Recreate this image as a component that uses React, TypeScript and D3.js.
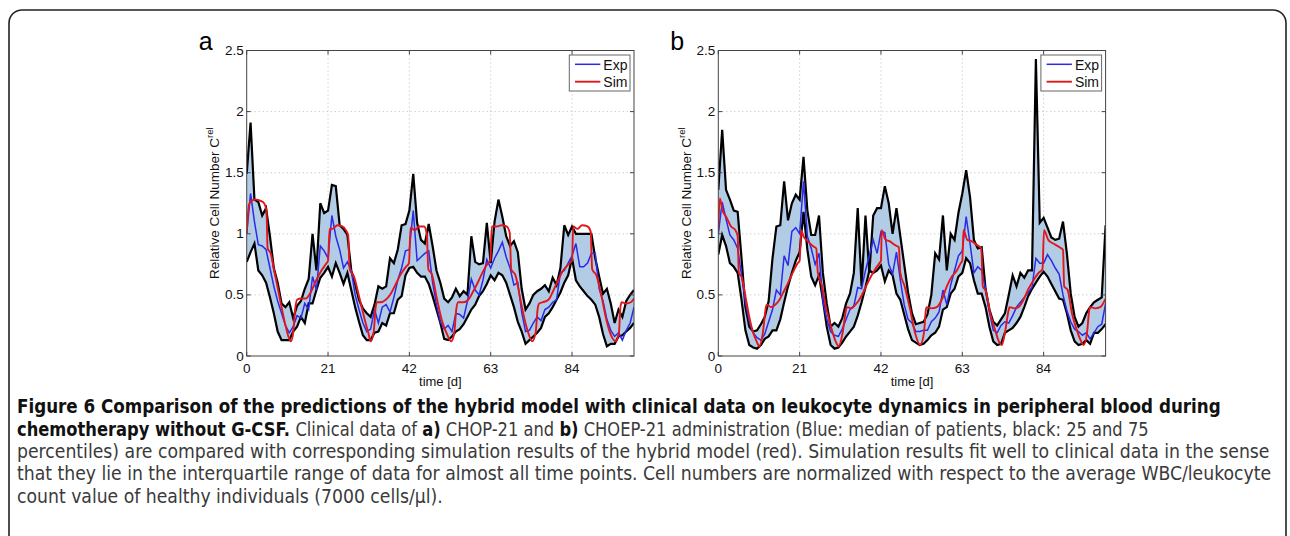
import React, { useMemo } from 'react';
import * as d3 from 'd3';

// ---------- data ----------
const DAYS = d3.range(0, 101);
const X_TICKS = [0, 21, 42, 63, 84];
const Y_TICKS = [0, 0.5, 1, 1.5, 2, 2.5];
const Y_TICK_LABELS = ['0', '0.5', '1', '1.5', '2', '2.5'];
const LEGEND = ['Exp', 'Sim'];

// Panel a (CHOP-21)
const upperA = [
  1.49, 1.91, 1.28, 1.26, 1.15, 1.21, 0.98, 0.72, 0.60, 0.43,
  0.40, 0.44, 0.31, 0.41, 0.45, 0.55, 0.63, 1.00, 0.70, 1.25,
  1.17, 1.19, 1.40, 1.39, 1.07, 1.04, 0.99, 0.70, 0.59, 0.46,
  0.39, 0.35, 0.32, 0.42, 0.57, 0.55, 0.57, 0.80, 0.76, 0.87,
  1.07, 1.08, 1.19, 1.49, 1.09, 0.95, 0.92, 1.08, 0.90, 0.70,
  0.60, 0.47, 0.44, 0.48, 0.55, 0.49, 0.53, 0.50, 0.98, 0.77,
  0.75, 0.76, 1.09, 0.76, 1.10, 1.28, 1.14, 0.98, 0.90, 0.94,
  0.85, 0.55, 0.38, 0.43, 0.50, 0.53, 0.55, 0.58, 0.53, 0.64,
  0.58, 0.72, 1.07, 0.99, 1.06, 1.00, 1.00, 1.00, 1.00, 1.00,
  0.80, 0.65, 0.51, 0.55, 0.43, 0.27, 0.38, 0.32, 0.45, 0.50,
  0.54,
];
const lowerA = [
  0.77, 0.85, 0.92, 0.70, 0.66, 0.60, 0.48, 0.35, 0.20, 0.13,
  0.13, 0.13, 0.20, 0.24, 0.32, 0.27, 0.43, 0.43, 0.54, 0.64,
  0.68, 0.73, 0.65, 0.76, 0.68, 0.59, 0.68, 0.54, 0.40, 0.28,
  0.17, 0.13, 0.13, 0.19, 0.20, 0.27, 0.25, 0.35, 0.35, 0.46,
  0.49, 0.66, 0.72, 0.73, 0.68, 0.65, 0.65, 0.59, 0.49, 0.38,
  0.27, 0.14, 0.13, 0.16, 0.20, 0.22, 0.26, 0.32, 0.38, 0.42,
  0.49, 0.53, 0.59, 0.66, 0.62, 0.68, 0.66, 0.60, 0.50, 0.40,
  0.28, 0.20, 0.10, 0.13, 0.16, 0.19, 0.23, 0.32, 0.35, 0.40,
  0.46, 0.52, 0.60, 0.66, 0.80, 0.62, 0.57, 0.53, 0.49, 0.46,
  0.42, 0.32, 0.18, 0.08, 0.10, 0.10, 0.16, 0.17, 0.20, 0.23,
  0.27,
];
const medianA = [
  1.00, 1.33, 1.10, 0.91, 0.90, 0.87, 0.72, 0.57, 0.45, 0.35,
  0.25, 0.19, 0.24, 0.33, 0.31, 0.43, 0.38, 0.65, 0.54, 0.90,
  0.86, 0.80, 1.15, 0.98, 0.87, 0.72, 0.77, 0.70, 0.50, 0.38,
  0.27, 0.20, 0.22, 0.38, 0.27, 0.40, 0.42, 0.36, 0.48, 0.62,
  0.72, 0.86, 0.87, 1.19, 0.78, 0.81, 0.84, 0.86, 0.60, 0.42,
  0.28, 0.22, 0.25, 0.20, 0.35, 0.34, 0.31, 0.45, 0.63, 0.54,
  0.50, 0.62, 0.79, 0.72, 0.80, 0.86, 0.93, 0.81, 0.72, 0.58,
  0.60, 0.36, 0.20, 0.21, 0.27, 0.32, 0.29, 0.38, 0.40, 0.44,
  0.46, 0.68, 0.70, 0.76, 0.82, 0.92, 0.73, 0.73, 0.76, 0.84,
  0.84, 0.55, 0.45, 0.30, 0.21, 0.16, 0.19, 0.13, 0.21, 0.27,
  0.40,
];
const simTimeA = [
  0, 0.6, 1.2, 2.3, 3.6, 4.5, 5.1, 5.4, 6.2, 7.1,
  8.0, 9.0, 10.1, 11.0, 11.4, 12.0, 12.5, 13.0, 14.0, 15.2,
  16.5, 17.8, 19.1, 20.4, 21.0, 21.4, 22.1, 23.4, 24.7, 25.6,
  26.2, 26.6, 27.7, 29.0, 30.3, 31.4, 32.0, 32.8, 33.3, 33.6,
  34.6, 35.9, 37.2, 38.5, 39.8, 41.1, 41.9, 42.3, 43.4, 44.5,
  45.8, 46.5, 46.9, 47.8, 49.1, 50.4, 51.7, 52.8, 53.6, 54.1,
  54.6, 55.9, 57.2, 58.5, 59.8, 61.0, 62.3, 62.9, 63.3, 64.5,
  65.8, 67.1, 67.9, 68.3, 69.4, 70.5, 71.6, 72.7, 73.7, 74.6,
  75.1, 75.5, 76.5, 77.9, 79.1, 80.4, 81.7, 83.4, 84.0, 84.3,
  85.4, 86.6, 88.0, 88.8, 89.2, 90.3, 91.6, 92.9, 94.2, 95.2,
  96.1, 96.5, 96.8, 98.0, 99.2, 100,
];
const simValueA = [
  1.00, 1.24, 1.27, 1.28, 1.27, 1.25, 1.19, 0.88, 0.84, 0.70,
  0.56, 0.40, 0.24, 0.14, 0.12, 0.19, 0.38, 0.46, 0.47, 0.47,
  0.52, 0.61, 0.69, 0.75, 0.78, 1.04, 1.04, 1.07, 1.06, 1.03,
  0.99, 0.71, 0.65, 0.49, 0.32, 0.19, 0.12, 0.20, 0.40, 0.44,
  0.44, 0.46, 0.51, 0.59, 0.67, 0.73, 0.76, 1.05, 1.03, 1.06,
  1.06, 1.00, 0.71, 0.67, 0.47, 0.29, 0.18, 0.12, 0.19, 0.38,
  0.44, 0.44, 0.46, 0.53, 0.61, 0.69, 0.76, 0.78, 1.06, 1.06,
  1.07, 1.06, 1.01, 0.71, 0.66, 0.49, 0.32, 0.19, 0.12, 0.19,
  0.38, 0.43, 0.44, 0.46, 0.53, 0.62, 0.70, 0.76, 0.78, 1.06,
  1.04, 1.07, 1.06, 1.02, 0.71, 0.66, 0.49, 0.29, 0.16, 0.12,
  0.19, 0.40, 0.44, 0.43, 0.44, 0.47,
];

// Panel b (CHOEP-21)
const upperB = [
  1.36, 1.85, 1.36, 1.28, 1.19, 1.18, 0.80, 0.40, 0.24, 0.20,
  0.21, 0.26, 0.32, 0.45, 0.80, 1.06, 1.07, 1.43, 1.11, 1.25,
  1.32, 1.28, 1.63, 1.19, 0.99, 0.99, 1.15, 0.68, 0.43, 0.24,
  0.27, 0.24, 0.31, 0.43, 0.51, 0.68, 1.21, 0.57, 1.15, 0.68,
  1.15, 1.21, 1.21, 1.39, 1.25, 1.00, 1.21, 0.98, 0.75, 0.52,
  0.35, 0.26, 0.27, 0.28, 0.34, 0.50, 0.84, 0.79, 1.15, 0.70,
  1.00, 0.95, 1.17, 1.33, 1.52, 1.30, 0.95, 0.88, 0.89, 0.55,
  0.38, 0.28, 0.25, 0.30, 0.35, 0.50, 0.66, 0.57, 0.68, 0.64,
  0.70, 0.70, 2.43, 1.09, 1.13, 1.05, 0.97, 0.95, 0.96, 1.10,
  0.84, 0.51, 0.32, 0.24, 0.27, 0.35, 0.40, 0.44, 0.46, 0.48,
  1.07,
];
const lowerB = [
  0.83, 0.99, 0.90, 0.76, 0.73, 0.68, 0.46, 0.21, 0.09, 0.07,
  0.06, 0.09, 0.14, 0.16, 0.21, 0.21, 0.30, 0.44, 0.57, 0.68,
  0.78, 0.85, 1.18, 0.87, 0.65, 0.58, 0.66, 0.46, 0.24, 0.09,
  0.06, 0.07, 0.11, 0.16, 0.20, 0.24, 0.33, 0.44, 0.56, 0.70,
  0.68, 0.70, 0.74, 0.61, 0.70, 0.66, 0.51, 0.46, 0.34, 0.22,
  0.13, 0.11, 0.09, 0.10, 0.13, 0.17, 0.19, 0.24, 0.38, 0.40,
  0.51, 0.55, 0.65, 0.68, 0.80, 0.76, 0.62, 0.51, 0.51, 0.40,
  0.24, 0.12, 0.09, 0.10, 0.19, 0.21, 0.23, 0.27, 0.32, 0.40,
  0.49, 0.55, 0.60, 0.65, 0.69, 0.65, 0.59, 0.53, 0.47, 0.46,
  0.35, 0.21, 0.12, 0.09, 0.10, 0.13, 0.10, 0.19, 0.19, 0.22,
  0.26,
];
const medianB = [
  1.00, 1.26, 1.12, 0.99, 0.95, 0.88, 0.66, 0.44, 0.28, 0.19,
  0.15, 0.13, 0.18, 0.28, 0.38, 0.54, 0.50, 0.82, 0.74, 1.02,
  1.05, 1.00, 1.43, 0.98, 0.88, 0.75, 0.84, 0.45, 0.30, 0.20,
  0.17, 0.16, 0.22, 0.30, 0.38, 0.41, 0.56, 0.55, 0.70, 0.82,
  0.95, 0.84, 1.02, 1.01, 0.75, 0.67, 0.85, 0.62, 0.42, 0.30,
  0.27, 0.20, 0.20, 0.21, 0.21, 0.28, 0.31, 0.36, 0.54, 0.42,
  0.58, 0.70, 0.82, 0.86, 1.14, 0.92, 0.68, 0.73, 0.70, 0.55,
  0.36, 0.21, 0.19, 0.25, 0.28, 0.27, 0.33, 0.40, 0.44, 0.48,
  0.52, 0.56, 0.80, 0.76, 0.76, 0.83, 0.78, 0.72, 0.67, 0.50,
  0.37, 0.28, 0.22, 0.20, 0.17, 0.19, 0.14, 0.19, 0.24, 0.26,
  0.43,
];
const simTimeB = [
  0, 0.4, 1.1, 2.0, 3.3, 4.4, 5.0, 5.3, 6.1, 7.0,
  8.0, 9.0, 9.9, 10.6, 11.5, 12.3, 12.5, 13.6, 14.7, 15.8,
  16.6, 17.9, 19.2, 20.5, 21.0, 21.4, 22.0, 23.1, 24.4, 25.3,
  25.7, 26.8, 27.8, 29.1, 30.3, 31.1, 32.1, 33.0, 33.2, 34.3,
  35.4, 36.4, 37.7, 38.9, 40.3, 41.6, 42.0, 42.2, 43.2, 44.2,
  45.5, 46.6, 47.0, 48.1, 49.4, 50.8, 52.1, 53.1, 53.6, 53.8,
  55.1, 56.4, 57.7, 59.0, 60.3, 61.6, 62.6, 63.0, 63.3, 64.3,
  65.4, 66.7, 67.9, 68.3, 69.1, 70.2, 71.5, 72.3, 73.2, 74.0,
  75.0, 75.2, 76.4, 77.5, 78.8, 80.1, 81.4, 82.7, 83.7, 84.1,
  85.2, 86.5, 88.1, 89.0, 89.3, 90.2, 91.3, 92.6, 93.4, 94.3,
  95.2, 95.8, 96.0, 97.3, 98.6, 100,
];
const simValueB = [
  1.03, 1.29, 1.19, 1.14, 1.06, 1.03, 0.98, 0.68, 0.64, 0.49,
  0.32, 0.19, 0.12, 0.08, 0.19, 0.40, 0.42, 0.40, 0.42, 0.46,
  0.51, 0.59, 0.68, 0.76, 0.78, 1.03, 0.98, 0.94, 0.90, 0.88,
  0.68, 0.57, 0.40, 0.24, 0.12, 0.08, 0.19, 0.38, 0.40, 0.39,
  0.42, 0.46, 0.54, 0.62, 0.70, 0.76, 0.78, 1.03, 0.95, 0.94,
  0.91, 0.89, 0.68, 0.57, 0.40, 0.19, 0.09, 0.19, 0.38, 0.40,
  0.39, 0.40, 0.46, 0.57, 0.65, 0.70, 0.76, 0.78, 1.03, 0.95,
  0.94, 0.91, 0.88, 0.57, 0.53, 0.35, 0.21, 0.13, 0.09, 0.19,
  0.38, 0.40, 0.39, 0.40, 0.46, 0.55, 0.62, 0.68, 0.71, 1.03,
  0.95, 0.92, 0.89, 0.87, 0.57, 0.54, 0.35, 0.21, 0.14, 0.09,
  0.19, 0.38, 0.40, 0.39, 0.40, 0.47,
];

const CAPTION_LINES = [
  [{ t: 'Figure 6 Comparison of the predictions of the hybrid model with clinical data on leukocyte dynamics in peripheral blood during', b: true }],
  [
    { t: 'chemotherapy without G-CSF.', b: true },
    { t: ' Clinical data of ', b: false },
    { t: 'a)', b: true },
    { t: ' CHOP-21 and ', b: false },
    { t: 'b)', b: true },
    { t: ' CHOEP-21 administration (Blue: median of patients, black: 25 and 75', b: false },
  ],
  [{ t: 'percentiles) are compared with corresponding simulation results of the hybrid model (red). Simulation results fit well to clinical data in the sense', b: false }],
  [{ t: 'that they lie in the interquartile range of data for almost all time points. Cell numbers are normalized with respect to the average WBC/leukocyte', b: false }],
  [{ t: 'count value of healthy individuals (7000 cells/\u03bcl).', b: false }],
];
// widths of the full lines; the last (short) line is scaled like line 4
const CAPTION_WIDTHS = [1205, 1132, 1253, 1255, null];
const CAPTION_Y = [413, 436, 458, 480, 503];

// ---------- layout ----------
const PLOT_W = 387.3;
const TOP = 50.5;
const BOTTOM = 356;
const FILL = 'rgb(179,204,230)';
const BLUE = '#2a2ae8';
const RED = '#e3161c';
const CAPTION_FONT = "'DejaVu Sans Condensed', 'Liberation Sans Narrow', 'DejaVu Sans', sans-serif";
const CAPTION_SIZE = 19.5;
const CAPTION_X = 17;

type PanelProps = {
  id: string;
  left: number;
  letter: string;
  upper: number[];
  lower: number[];
  median: number[];
  simT: number[];
  simV: number[];
};

function Panel({ id, left, letter, upper, lower, median, simT, simV }: PanelProps) {
  const x = d3.scaleLinear().domain([0, 100]).range([left, left + PLOT_W]);
  const y = d3.scaleLinear().domain([0, 2.5]).range([BOTTOM, TOP]);
  const right = left + PLOT_W;

  const area = d3
    .area<number>()
    .x((d) => x(d))
    .y0((d, i) => y(lower[i]))
    .y1((d, i) => y(upper[i]))(DAYS);
  const mk = (arr: number[]) =>
    d3
      .line<number>()
      .x((d) => x(d))
      .y((d, i) => y(arr[i]))(DAYS);
  const simPath = d3
    .line<number>()
    .x((d, i) => x(simT[i]))
    .y((d) => y(d))
    .curve(d3.curveMonotoneX)(simV);

  const legX = right - 64.7;
  const legY = TOP + 4.5;

  return (
    <g>
      <defs>
        <clipPath id={`clip-${id}`}>
          <rect x={left} y={TOP} width={PLOT_W} height={BOTTOM - TOP} />
        </clipPath>
      </defs>
      {X_TICKS.filter((t) => t > 0).map((t) => (
        <line key={`gx${t}`} x1={x(t)} x2={x(t)} y1={TOP} y2={BOTTOM} stroke="#b8b8b8" strokeWidth={1} strokeDasharray="1,3" />
      ))}
      {Y_TICKS.filter((t) => t > 0 && t < 2.5).map((t) => (
        <line key={`gy${t}`} x1={left} x2={right} y1={y(t)} y2={y(t)} stroke="#b8b8b8" strokeWidth={1} strokeDasharray="1,3" />
      ))}
      <g clipPath={`url(#clip-${id})`}>
        <path d={area || ''} fill={FILL} stroke="none" />
        <path d={mk(upper) || ''} fill="none" stroke="#000" strokeWidth={2.2} />
        <path d={mk(lower) || ''} fill="none" stroke="#000" strokeWidth={2.2} />
        <path d={mk(median) || ''} fill="none" stroke={BLUE} strokeWidth={1.5} />
        <path d={simPath || ''} fill="none" stroke={RED} strokeWidth={1.9} />
      </g>
      <rect x={left} y={TOP} width={PLOT_W} height={BOTTOM - TOP} fill="none" stroke="#444" strokeWidth={1} />
      {X_TICKS.map((t) => (
        <g key={`xt${t}`}>
          <line x1={x(t)} x2={x(t)} y1={BOTTOM} y2={BOTTOM - 4} stroke="#444" />
          <line x1={x(t)} x2={x(t)} y1={TOP} y2={TOP + 4} stroke="#444" />
          <text x={x(t)} y={BOTTOM + 17} textAnchor="middle" fontSize={13.5} fill="#111">
            {t}
          </text>
        </g>
      ))}
      {Y_TICKS.map((t, i) => (
        <g key={`yt${t}`}>
          <line x1={left} x2={left + 4} y1={y(t)} y2={y(t)} stroke="#444" />
          <line x1={right} x2={right - 4} y1={y(t)} y2={y(t)} stroke="#444" />
          <text x={left - 3} y={y(t) + 4.5} textAnchor="end" fontSize={13.5} fill="#111">
            {Y_TICK_LABELS[i]}
          </text>
        </g>
      ))}
      <text x={(left + right) / 2} y={386} textAnchor="middle" fontSize={13} fill="#111">
        time [d]
      </text>
      <text transform={`translate(${left - 27.5},${(TOP + BOTTOM) / 2}) rotate(-90)`} textAnchor="middle" fontSize={13.5} fill="#111">
        Relative Cell Number C
        <tspan dy={-6} fontSize={9.5}>rel</tspan>
      </text>
      <text x={left - 41} y={50} textAnchor="middle" fontSize={25} fill="#000">
        {letter}
      </text>
      <rect x={legX} y={legY} width={60.7} height={36} fill="#fff" stroke="#666" strokeWidth={1} />
      {LEGEND.map((lab, i) => (
        <g key={lab}>
          <line x1={legX + 5.7} x2={legX + 31} y1={legY + 9.3 + i * 17.4} y2={legY + 9.3 + i * 17.4} stroke={i === 0 ? BLUE : RED} strokeWidth={i === 0 ? 1.5 : 1.9} />
          <text x={legX + 34} y={legY + 14.5 + i * 17.4} fontSize={14} fill="#111">
            {lab}
          </text>
        </g>
      ))}
    </g>
  );
}

type Seg = { t: string; b: boolean; x: number };
type CapLine = { k: number; segs: Seg[] };

function layoutCaption(): CapLine[] {
  let ctx: CanvasRenderingContext2D | null = null;
  try {
    ctx = document.createElement('canvas').getContext('2d');
  } catch (e) {
    ctx = null;
  }
  const measure = (t: string, b: boolean) => {
    if (!ctx) return t.length * CAPTION_SIZE * 0.5;
    ctx.font = `${b ? 'bold ' : ''}${CAPTION_SIZE}px ${CAPTION_FONT}`;
    return ctx.measureText(t).width;
  };
  const totals = CAPTION_LINES.map((line) => line.reduce((a, s) => a + measure(s.t, s.b), 0));
  const refScale = (CAPTION_WIDTHS[3] as number) / totals[3];
  return CAPTION_LINES.map((line, li) => {
    const target = CAPTION_WIDTHS[li];
    const k = target != null ? target / totals[li] : refScale;
    let cx = 0;
    const segs: Seg[] = [];
    line.forEach((s) => {
      const lead = s.t.length - s.t.trimStart().length;
      const leadW = lead ? measure(s.t.slice(0, lead), s.b) : 0;
      segs.push({ t: s.t.trim(), b: s.b, x: cx + leadW });
      cx += measure(s.t, s.b);
    });
    return { k, segs };
  });
}

export default function App() {
  const caption = useMemo(() => layoutCaption(), []);

  return (
    <svg
      width={1290}
      height={536}
      style={{ position: 'absolute', left: 0, top: 0, background: '#fff', display: 'block' }}
      fontFamily="'Liberation Sans', Arial, Helvetica, sans-serif"
    >
      <rect x={9} y={10} width={1277} height={620} rx={13} fill="none" stroke="#222" strokeWidth={1.6} />
      <Panel id="a" left={246.7} letter="a" upper={upperA} lower={lowerA} median={medianA} simT={simTimeA} simV={simValueA} />
      <Panel id="b" left={718.3} letter="b" upper={upperB} lower={lowerB} median={medianB} simT={simTimeB} simV={simValueB} />
      <g fontFamily={CAPTION_FONT} fontSize={CAPTION_SIZE}>
        {caption.map((line, li) => (
          <g key={li} transform={`translate(${CAPTION_X},${CAPTION_Y[li]}) scale(${line.k},1)`}>
            {line.segs.map((seg, si) => (
              <text key={si} x={seg.x} y={0} fontWeight={seg.b ? 'bold' : 'normal'} fill={seg.b ? '#111' : '#3a3a3a'}>
                {seg.t}
              </text>
            ))}
          </g>
        ))}
      </g>
    </svg>
  );
}
